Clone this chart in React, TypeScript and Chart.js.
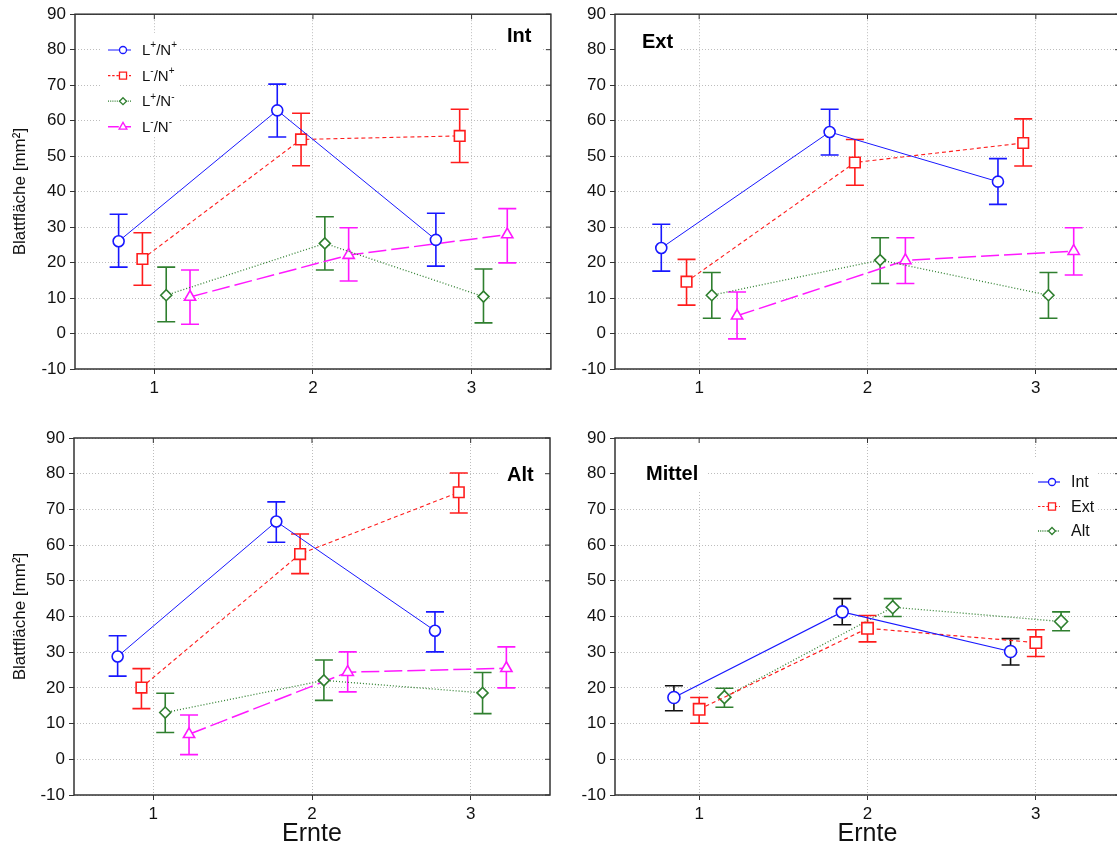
import React, { useEffect, useRef } from "react";
import { Chart, registerables } from "chart.js";

Chart.register(...registerables);

// ---------- data ----------
const harvests = [1, 2, 3];
const yTickValues = [-10, 0, 10, 20, 30, 40, 50, 60, 70, 80, 90];
const treatmentLabels = ["L⁺/N⁺", "L⁻/N⁺", "L⁺/N⁻", "L⁻/N⁻"];
const siteLabels = ["Int", "Ext", "Alt"];
const panelTitles = ["Int", "Ext", "Alt", "Mittel"];
const treatmentOffsets = [-0.225, -0.075, 0.075, 0.225];
const siteOffsets = [-0.15, 0, 0.15];

// Int
const intMeans = [[26.0, 62.9, 26.4], [21.0, 54.7, 55.7], [10.8, 25.4, 10.4], [10.3, 22.1, 27.9]];
const intLower = [[18.7, 55.4, 19.0], [13.6, 47.3, 48.2], [3.3, 17.9, 3.0], [2.6, 14.8, 19.9]];
const intUpper = [[33.6, 70.3, 33.9], [28.4, 62.1, 63.2], [18.7, 32.9, 18.2], [17.9, 29.8, 35.2]];
// Ext
const extMeans = [[24.1, 56.8, 42.8], [14.6, 48.2, 53.7], [10.8, 20.7, 10.8], [5.0, 20.6, 23.2]];
const extLower = [[17.6, 50.3, 36.4], [8.0, 41.8, 47.2], [4.3, 14.1, 4.3], [-1.5, 14.1, 16.5]];
const extUpper = [[30.8, 63.2, 49.3], [20.9, 54.7, 60.5], [17.2, 27.0, 17.2], [11.7, 27.0, 29.8]];
// Alt
const altMeans = [[28.8, 66.6, 36.0], [20.1, 57.5, 74.8], [13.1, 22.1, 18.6], [7.0, 24.4, 25.5]];
const altLower = [[23.3, 60.8, 30.1], [14.2, 52.0, 69.0], [7.5, 16.5, 12.8], [1.3, 18.9, 20.0]];
const altUpper = [[34.6, 72.1, 41.3], [25.4, 63.1, 80.2], [18.5, 27.8, 24.3], [12.4, 30.1, 31.5]];
// Mittel
const mittelMeans = [[17.3, 41.3, 30.2], [14.0, 36.7, 32.7], [17.4, 42.6, 38.6]];
const mittelLower = [[13.6, 37.7, 26.4], [10.1, 32.9, 28.8], [14.6, 40.0, 36.0]];
const mittelUpper = [[20.6, 45.0, 33.8], [17.3, 40.3, 36.3], [19.9, 45.0, 41.3]];

// ---------- styles ----------
const FONT = '"Liberation Sans", Arial, Helvetica, sans-serif';
const BLUE = "#1818ff";
const RED = "#ff1c1c";
const GREEN = "#2f7f2f";
const MAGENTA = "#ff18ff";

type SeriesStyle = {
  color: string; errColor: string; dash: number[]; lineWidth: number;
  pointStyle: string; radius: number; legendRadius: number;
};

const treatmentStyles: SeriesStyle[] = [
  { color: BLUE, errColor: BLUE, dash: [], lineWidth: 1, pointStyle: "circle", radius: 5.5, legendRadius: 3.5 },
  { color: RED, errColor: RED, dash: [4, 3], lineWidth: 1.1, pointStyle: "rect", radius: 7.5, legendRadius: 5 },
  { color: GREEN, errColor: GREEN, dash: [1, 2], lineWidth: 1.3, pointStyle: "rectRot", radius: 5.5, legendRadius: 3.5 },
  { color: MAGENTA, errColor: MAGENTA, dash: [18, 5], lineWidth: 1.5, pointStyle: "triangle", radius: 6.5, legendRadius: 4.5 },
];
const siteStyles: SeriesStyle[] = [
  { color: BLUE, errColor: "#111", dash: [], lineWidth: 1.2, pointStyle: "circle", radius: 6, legendRadius: 3.5 },
  { color: RED, errColor: RED, dash: [4, 3], lineWidth: 1.2, pointStyle: "rect", radius: 8, legendRadius: 5 },
  { color: GREEN, errColor: GREEN, dash: [1, 2], lineWidth: 1.3, pointStyle: "rectRot", radius: 6.5, legendRadius: 3.5 },
];

type PanelSpec = {
  left: number; top: number; w: number; h: number;
  padTop: number; padRight: number; yWidth: number; xHeight: number;
  yTitle: boolean; xTitle: boolean;
  title: string; titleX: number; titleY: number;
  boxes: number[][];
  legend: { labels: string[]; styles: SeriesStyle[]; y0: number; dy: number; lx0: number; lx1: number; mx: number; tx: number; size: number };
  means: number[][]; lower: number[][]; upper: number[][]; offsets: number[]; styles: SeriesStyle[]; labels: string[];
};

const panels: PanelSpec[] = [
  {
    left: 0, top: 0, w: 560, h: 410, padTop: 13, padRight: 7, yWidth: 75, xHeight: 41,
    yTitle: true, xTitle: false, title: panelTitles[0], titleX: 507, titleY: 42,
    boxes: [[496, 14, 46, 37], [100, 33, 78, 103]],
    legend: { labels: treatmentLabels, styles: treatmentStyles, y0: 50, dy: 25.6, lx0: 108, lx1: 131, mx: 123, tx: 142, size: 15 },
    means: intMeans, lower: intLower, upper: intUpper, offsets: treatmentOffsets, styles: treatmentStyles, labels: treatmentLabels,
  },
  {
    left: 560, top: 0, w: 570, h: 410, padTop: 13, padRight: 10, yWidth: 55, xHeight: 41,
    yTitle: false, xTitle: false, title: panelTitles[1], titleX: 82, titleY: 48,
    boxes: [[55, 14, 66, 40]],
    legend: null as any,
    means: extMeans, lower: extLower, upper: extUpper, offsets: treatmentOffsets, styles: treatmentStyles, labels: treatmentLabels,
  },
  {
    left: 0, top: 420, w: 560, h: 429, padTop: 18, padRight: 10, yWidth: 74, xHeight: 54,
    yTitle: true, xTitle: true, title: panelTitles[2], titleX: 507, titleY: 61,
    boxes: [[498, 19, 52, 50]],
    legend: null as any,
    means: altMeans, lower: altLower, upper: altUpper, offsets: treatmentOffsets, styles: treatmentStyles, labels: treatmentLabels,
  },
  {
    left: 560, top: 420, w: 570, h: 429, padTop: 18, padRight: 10, yWidth: 55, xHeight: 54,
    yTitle: false, xTitle: true, title: panelTitles[3], titleX: 86, titleY: 60,
    boxes: [[56, 19, 90, 51], [475, 37, 61, 83]],
    legend: { labels: siteLabels, styles: siteStyles, y0: 62, dy: 24.5, lx0: 478, lx1: 500, mx: 492, tx: 511, size: 16 },
    means: mittelMeans, lower: mittelLower, upper: mittelUpper, offsets: siteOffsets, styles: siteStyles, labels: siteLabels,
  },
];

// ---------- drawing helpers ----------
function drawMarker(ctx: CanvasRenderingContext2D, style: string, x: number, y: number, r: number) {
  ctx.beginPath();
  if (style === "circle") {
    ctx.arc(x, y, r, 0, Math.PI * 2);
  } else if (style === "rect") {
    const s = r * Math.SQRT1_2;
    ctx.rect(x - s, y - s, 2 * s, 2 * s);
  } else if (style === "rectRot") {
    ctx.moveTo(x, y - r); ctx.lineTo(x + r, y); ctx.lineTo(x, y + r); ctx.lineTo(x - r, y); ctx.closePath();
  } else if (style === "triangle") {
    ctx.moveTo(x, y - r);
    ctx.lineTo(x + r * Math.sin((2 * Math.PI) / 3), y - r * Math.cos((2 * Math.PI) / 3));
    ctx.lineTo(x + r * Math.sin((4 * Math.PI) / 3), y - r * Math.cos((4 * Math.PI) / 3));
    ctx.closePath();
  }
  ctx.fill();
  ctx.stroke();
}

function drawRichLabel(ctx: CanvasRenderingContext2D, label: string, x: number, y: number, size: number) {
  const runs: { t: string; sup: boolean }[] = [];
  for (const ch of label) {
    const sup = ch === "⁺" || ch === "⁻";
    const t = ch === "⁺" ? "+" : ch === "⁻" ? "-" : ch;
    if (runs.length && runs[runs.length - 1].sup === sup) runs[runs.length - 1].t += t;
    else runs.push({ t, sup });
  }
  let cx = x;
  ctx.textBaseline = "middle";
  ctx.textAlign = "left";
  for (const r of runs) {
    ctx.font = r.sup ? `${Math.round(size * 0.68)}px ${FONT}` : `${size}px ${FONT}`;
    ctx.fillText(r.t, cx, r.sup ? y - size * 0.36 : y);
    cx += ctx.measureText(r.t).width;
  }
}

function makeDecor(p: PanelSpec) {
  return {
    id: "decor",
    beforeDatasetsDraw(chart: any) {
      const ctx: CanvasRenderingContext2D = chart.ctx;
      const xs = chart.scales.x;
      const ys = chart.scales.y;
      ctx.save();
      ctx.fillStyle = "#ffffff";
      p.boxes.forEach((b) => ctx.fillRect(b[0], b[1], b[2], b[3]));
      // error bars
      const cap = 9;
      chart.data.datasets.forEach((ds: any) => {
        ctx.strokeStyle = ds.errColor;
        ctx.lineWidth = 1.6;
        ctx.setLineDash([]);
        ds.data.forEach((pt: any, j: number) => {
          const px = xs.getPixelForValue(pt.x);
          const lo = ys.getPixelForValue(ds.errLow[j]);
          const hi = ys.getPixelForValue(ds.errHigh[j]);
          ctx.beginPath();
          ctx.moveTo(px, lo); ctx.lineTo(px, hi);
          ctx.moveTo(px - cap, lo); ctx.lineTo(px + cap, lo);
          ctx.moveTo(px - cap, hi); ctx.lineTo(px + cap, hi);
          ctx.stroke();
        });
      });
      ctx.restore();
    },
    afterDatasetsDraw(chart: any) {
      const ctx: CanvasRenderingContext2D = chart.ctx;
      const ca = chart.chartArea;
      const xs = chart.scales.x;
      const ys = chart.scales.y;
      ctx.save();
      ctx.setLineDash([]);
      // frame
      ctx.strokeStyle = "#333";
      ctx.lineWidth = 1.5;
      ctx.strokeRect(ca.left, ca.top, ca.right - ca.left, ca.bottom - ca.top);
      // inward ticks on top and right
      ctx.lineWidth = 1;
      ctx.beginPath();
      harvests.forEach((v) => {
        const px = xs.getPixelForValue(v);
        ctx.moveTo(px, ca.top); ctx.lineTo(px, ca.top + 5);
      });
      yTickValues.forEach((v) => {
        const py = ys.getPixelForValue(v);
        ctx.moveTo(ca.right, py); ctx.lineTo(ca.right - 5, py);
      });
      ctx.stroke();
      // panel title
      ctx.fillStyle = "#000";
      ctx.font = `bold 20px ${FONT}`;
      ctx.textBaseline = "alphabetic";
      ctx.textAlign = "left";
      ctx.fillText(p.title, p.titleX, p.titleY);
      // legend
      const lg = p.legend;
      if (lg) {
        lg.labels.forEach((label, k) => {
          const st = lg.styles[k];
          const yy = lg.y0 + k * lg.dy;
          ctx.strokeStyle = st.color;
          ctx.lineWidth = st.lineWidth;
          ctx.setLineDash(st.dash.length ? st.dash.map((d) => Math.max(1, d * 0.6)) : []);
          ctx.beginPath();
          ctx.moveTo(lg.lx0, yy); ctx.lineTo(lg.lx1, yy);
          ctx.stroke();
          ctx.setLineDash([]);
          ctx.fillStyle = "#fff";
          ctx.lineWidth = 1.3;
          drawMarker(ctx, st.pointStyle, lg.mx, yy, st.legendRadius);
          ctx.fillStyle = "#111";
          drawRichLabel(ctx, label, lg.tx, yy + 1, lg.size);
        });
      }
      ctx.restore();
    },
  };
}

function buildConfig(p: PanelSpec): any {
  const datasets = p.means.map((m, i) => {
    const st = p.styles[i];
    return {
      label: p.labels[i],
      data: harvests.map((h, j) => ({ x: h + p.offsets[i], y: m[j] })),
      errLow: p.lower[i],
      errHigh: p.upper[i],
      errColor: st.errColor,
      borderColor: st.color,
      borderWidth: st.lineWidth,
      borderDash: st.dash,
      pointStyle: st.pointStyle,
      pointRadius: st.radius,
      pointBackgroundColor: "#ffffff",
      pointBorderColor: st.color,
      pointBorderWidth: 1.6,
      fill: false,
      showLine: true,
      tension: 0,
    };
  });
  const gridOpts = {
    color: "#bdbdbd",
    lineWidth: 1,
    drawTicks: true,
    tickLength: 5,
    tickColor: "#333",
    tickWidth: 1,
    tickBorderDash: [],
  };
  return {
    type: "line",
    data: { datasets },
    options: {
      animation: false,
      responsive: false,
      devicePixelRatio: 1,
      layout: { padding: { top: p.padTop, right: p.padRight, left: 0, bottom: 0 } },
      plugins: { legend: { display: false }, tooltip: { enabled: false }, title: { display: false } },
      scales: {
        x: {
          type: "linear",
          min: 0.5,
          max: 3.5,
          afterBuildTicks: (s: any) => { s.ticks = harvests.map((v) => ({ value: v })); },
          afterFit: (s: any) => { s.height = p.xHeight; },
          grid: gridOpts,
          border: { display: false, dash: [1, 2] },
          ticks: { font: { family: FONT, size: 17 }, color: "#111", padding: 4, maxRotation: 0, autoSkip: false, callback: (v: any) => String(v) },
          title: { display: p.xTitle, text: "Ernte", font: { family: FONT, size: 25 }, color: "#111", padding: { top: 0, bottom: 0 } },
        },
        y: {
          type: "linear",
          min: -10,
          max: 90,
          afterBuildTicks: (s: any) => { s.ticks = yTickValues.map((v) => ({ value: v })); },
          afterFit: (s: any) => { s.width = p.yWidth; },
          grid: gridOpts,
          border: { display: false, dash: [1, 2] },
          ticks: { font: { family: FONT, size: 17 }, color: "#111", padding: 4, autoSkip: false, callback: (v: any) => String(v) },
          title: { display: p.yTitle, text: "Blattfläche [mm²]", font: { family: FONT, size: 17 }, color: "#111", padding: { top: 10, bottom: 0 } },
        },
      },
    },
    plugins: [makeDecor(p)],
  };
}

function Panel({ p }: { p: PanelSpec }) {
  const ref = useRef<HTMLCanvasElement>(null);
  useEffect(() => {
    const chart = new Chart(ref.current as HTMLCanvasElement, buildConfig(p));
    return () => chart.destroy();
  }, []);
  return (
    <canvas
      ref={ref}
      width={p.w}
      height={p.h}
      style={{ position: "absolute", left: p.left, top: p.top, width: p.w, height: p.h }}
    />
  );
}

export default function App() {
  return (
    <div style={{ position: "fixed", left: 0, top: 0, width: 1117, height: 849, overflow: "hidden", background: "#fff" }}>
      {panels.map((p, i) => (
        <Panel key={i} p={p} />
      ))}
    </div>
  );
}
